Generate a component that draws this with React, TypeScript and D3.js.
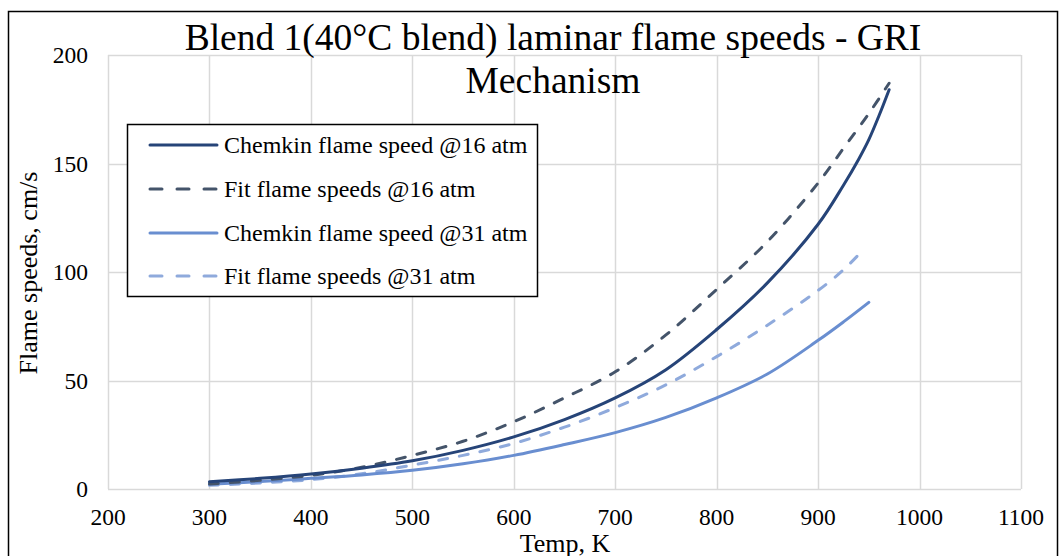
import React, { useEffect, useRef } from 'react';
import * as d3 from 'd3';

// temperatures (K)
const tempsC16 = [300, 350, 400, 450, 500, 550, 600, 650, 700, 750, 800, 850, 900, 925, 940, 950, 960, 970];
const tempsF16 = [300, 350, 400, 450, 500, 550, 600, 650, 700, 750, 800, 850, 900, 925, 950, 970];
const tempsC31 = [300, 350, 400, 450, 500, 550, 600, 650, 700, 750, 800, 850, 900, 925, 950];
const tempsF31 = [300, 350, 400, 450, 500, 550, 600, 650, 700, 750, 800, 850, 900, 925, 945];

// flame speeds (cm/s)
const chemkin16 = [3.3, 4.9, 6.9, 9.6, 13, 17.8, 24, 32, 42, 55, 73.5, 95, 122, 140, 152, 161, 172, 184];
const fit16 = [2.3, 4, 6.3, 10, 15.5, 22, 31, 42, 54, 71, 92, 114, 141, 157, 173, 187];
const chemkin31 = [2.2, 3.4, 4.9, 6.5, 8.6, 11.6, 15.5, 20.5, 26, 33, 42, 53, 68.5, 77, 86];
const fit31 = [1.7, 2.8, 4.3, 7, 11, 15.5, 21, 28.5, 37.5, 48, 61, 75.5, 91.5, 101, 110.5];

const xTicks = [200, 300, 400, 500, 600, 700, 800, 900, 1000, 1100];
const yTicks = [0, 50, 100, 150, 200];

const seriesNames = [
  'Chemkin flame speed @16 atm',
  'Fit flame speeds @16 atm',
  'Chemkin flame speed @31 atm',
  'Fit flame speeds @31 atm',
];

const FONT = '"Liberation Serif", "Times New Roman", serif';

const App = () => {
  const ref = useRef<SVGSVGElement>(null);

  useEffect(() => {
    const svg = d3.select(ref.current);
    svg.selectAll('*').remove();

    const x = d3.scaleLinear().domain([200, 1100]).range([108, 1021]);
    const y = d3.scaleLinear().domain([0, 200]).range([489, 55]);

    // chart border
    svg.append('rect')
      .attr('x', 8.5).attr('y', 11.5)
      .attr('width', 1049).attr('height', 560)
      .attr('fill', 'white').attr('stroke', 'black').attr('stroke-width', 1.5);

    // gridlines
    svg.append('g').selectAll('line').data(yTicks).enter().append('line')
      .attr('x1', x(200)).attr('x2', x(1100))
      .attr('y1', (d) => Math.round(y(d)) + 0.5).attr('y2', (d) => Math.round(y(d)) + 0.5)
      .attr('stroke', '#d9d9d9').attr('stroke-width', 1.5);
    svg.append('g').selectAll('line').data(xTicks).enter().append('line')
      .attr('y1', y(0)).attr('y2', y(200))
      .attr('x1', (d) => Math.round(x(d)) + 0.5).attr('x2', (d) => Math.round(x(d)) + 0.5)
      .attr('stroke', '#d9d9d9').attr('stroke-width', 1.5);

    // tick labels
    svg.append('g').selectAll('text').data(yTicks).enter().append('text')
      .attr('x', 88).attr('y', (d) => y(d) + 8)
      .attr('text-anchor', 'end')
      .attr('font-family', FONT).attr('font-size', 23.5)
      .text((d) => d);
    svg.append('g').selectAll('text').data(xTicks).enter().append('text')
      .attr('x', (d) => x(d)).attr('y', 525)
      .attr('text-anchor', 'middle')
      .attr('font-family', FONT).attr('font-size', 23.5)
      .text((d) => d);

    // axis titles
    svg.append('text')
      .attr('x', 565).attr('y', 552)
      .attr('text-anchor', 'middle')
      .attr('font-family', FONT).attr('font-size', 26)
      .text('Temp, K');
    svg.append('text')
      .attr('transform', 'translate(37,273) rotate(-90)')
      .attr('text-anchor', 'middle')
      .attr('font-family', FONT).attr('font-size', 26)
      .text('Flame speeds, cm/s');

    // title
    const title = svg.append('text')
      .attr('text-anchor', 'middle')
      .attr('font-family', FONT).attr('font-size', 37.5);
    title.append('tspan').attr('x', 553).attr('y', 50)
      .text('Blend 1(40°C blend) laminar flame speeds - GRI');
    title.append('tspan').attr('x', 553).attr('y', 93)
      .text('Mechanism');

    // series
    const series = [
      { t: tempsC16, v: chemkin16, color: '#264478', dash: null },
      { t: tempsF16, v: fit16, color: '#44546a', dash: '9 12' },
      { t: tempsC31, v: chemkin31, color: '#698ed0', dash: null },
      { t: tempsF31, v: fit31, color: '#8faadc', dash: '9 12' },
    ];

    const line = d3.line<[number, number]>()
      .x((d) => x(d[0]))
      .y((d) => y(d[1]))
      .curve(d3.curveCatmullRom.alpha(0.5));

    // draw light lines first, dark on top like the original
    [3, 2, 1, 0].forEach((i) => {
      const s = series[i];
      const pts = s.t.map((t, k) => [t, s.v[k]] as [number, number]);
      svg.append('path')
        .attr('d', line(pts))
        .attr('fill', 'none')
        .attr('stroke', s.color)
        .attr('stroke-width', 3)
        .attr('stroke-linecap', 'round')
        .attr('stroke-dasharray', s.dash);
    });

    // legend
    const lg = svg.append('g');
    lg.append('rect')
      .attr('x', 127.5).attr('y', 124.5)
      .attr('width', 410).attr('height', 172)
      .attr('fill', 'white').attr('stroke', 'black').attr('stroke-width', 1.5);
    const rowY = [145, 189, 233, 276];
    series.forEach((s, i) => {
      lg.append('line')
        .attr('x1', 150).attr('x2', 217)
        .attr('y1', rowY[i]).attr('y2', rowY[i])
        .attr('stroke', s.color).attr('stroke-width', 3)
        .attr('stroke-linecap', 'round')
        .attr('stroke-dasharray', s.dash ? '12 15' : null);
      lg.append('text')
        .attr('x', 224).attr('y', rowY[i] + 8)
        .attr('font-family', FONT).attr('font-size', 24)
        .text(seriesNames[i]);
    });
  }, []);

  return (
    <svg
      ref={ref}
      width={1060}
      height={556}
      style={{ position: 'absolute', left: 0, top: 0, background: 'white' }}
    />
  );
};

export default App;
